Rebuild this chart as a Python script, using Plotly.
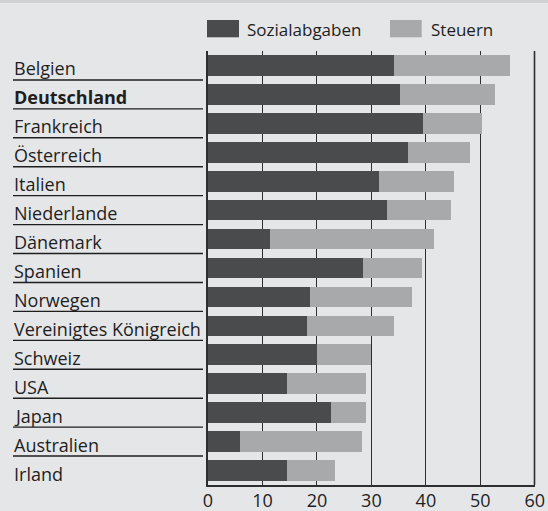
import plotly.graph_objects as go

countries = ["Belgien", "Deutschland", "Frankreich", "Österreich", "Italien",
             "Niederlande", "Dänemark", "Spanien", "Norwegen",
             "Vereinigtes Königreich", "Schweiz", "USA", "Japan",
             "Australien", "Irland"]
sozialabgaben = [34.1, 35.2, 39.4, 36.7, 31.3, 32.8, 11.3, 28.4, 18.7, 18.1,
                 20.0, 14.5, 22.5, 5.8, 14.5]
steuern = [21.3, 17.5, 10.9, 11.4, 13.8, 11.8, 30.1, 10.8, 18.7, 16.0,
           9.9, 14.5, 6.5, 22.4, 8.8]
x_ticks = [0, 10, 20, 30, 40, 50, 60]
series_names = ["Sozialabgaben", "Steuern"]
bold_country = "Deutschland"

W, H = 548, 511
ML, MR, MT, MB = 208, 13, 51, 26
PW = W - ML - MR
PH = H - MT - MB

def px(x):
    return (x - ML) / PW

def py(y):
    return (H - MB - y) / PH

DARK = "#4a4b4d"
LIGHT = "#a8a9ab"
BG = "#e5e6e8"
INK = "#1e1e1e"
GRID = "#2e2e2e"
FONT = "Open Sans"

fig = go.Figure()
fig.add_trace(go.Bar(y=countries, x=sozialabgaben, orientation="h",
                     marker=dict(color=DARK, line=dict(width=0)),
                     name=series_names[0]))
fig.add_trace(go.Bar(y=countries, x=steuern, orientation="h",
                     marker=dict(color=LIGHT, line=dict(width=0)),
                     name=series_names[1]))

annotations = []
for i, c in enumerate(countries):
    txt = f"<b>{c}</b>" if c == bold_country else c
    annotations.append(dict(x=px(12), xref="paper", y=c, yref="y",
                            text=txt, showarrow=False, xanchor="left",
                            yanchor="middle", yshift=-3,
                            font=dict(family=FONT, size=18, color=INK)))

shapes = []
for i in range(len(countries) - 1):
    shapes.append(dict(type="line", xref="paper", yref="y",
                       x0=px(13), x1=px(203), y0=i + 0.5, y1=i + 0.5,
                       line=dict(color=INK, width=1.4)))

# right frame line (plot edge = last tick)
shapes.append(dict(type="line", xref="paper", yref="paper",
                   x0=px(534.5), x1=px(534.5), y0=0, y1=1,
                   line=dict(color=GRID, width=1.6)))

# top band
shapes.append(dict(type="rect", xref="paper", yref="paper",
                   x0=px(0), x1=px(W), y0=py(3), y1=py(-2),
                   fillcolor="#d1d2d4", line=dict(width=0), layer="below"))

# legend
shapes.append(dict(type="rect", xref="paper", yref="paper",
                   x0=px(207), x1=px(239), y0=py(37.3), y1=py(20),
                   fillcolor=DARK, line=dict(width=0)))
shapes.append(dict(type="rect", xref="paper", yref="paper",
                   x0=px(390), x1=px(421.7), y0=py(37.3), y1=py(20),
                   fillcolor=LIGHT, line=dict(width=0)))
annotations.append(dict(x=px(245), y=py(29), xref="paper", yref="paper",
                        text=series_names[0], showarrow=False, xanchor="left",
                        yanchor="middle",
                        font=dict(family=FONT, size=17, color=INK)))
annotations.append(dict(x=px(429), y=py(29), xref="paper", yref="paper",
                        text=series_names[1], showarrow=False, xanchor="left",
                        yanchor="middle",
                        font=dict(family=FONT, size=17, color=INK)))

fig.update_layout(
    width=W, height=H,
    margin=dict(l=ML, r=MR, t=MT, b=MB, pad=0, autoexpand=False),
    paper_bgcolor=BG, plot_bgcolor=BG,
    barmode="stack", bargap=0.286,
    showlegend=False,
    annotations=annotations, shapes=shapes,
    xaxis=dict(range=[0, 60.03], tickvals=x_ticks,
               ticktext=[str(v) for v in x_ticks], automargin=False,
               showgrid=True, gridcolor=GRID, gridwidth=1.4,
               showline=True, linecolor=GRID, linewidth=1.6,
               zeroline=False, ticks="", ticklabelstandoff=-1,
               tickfont=dict(family=FONT, size=18, color=INK)),
    yaxis=dict(autorange=False, range=[14.5, -0.5], showticklabels=False,
               automargin=False,
               showgrid=False, zeroline=False, showline=True,
               linecolor=GRID, linewidth=1.8, ticks=""),
)

fig.write_html("out.html", config={"displayModeBar": False},
               post_script="document.body.style.margin='0';"
                           "document.body.style.overflow='hidden';")
